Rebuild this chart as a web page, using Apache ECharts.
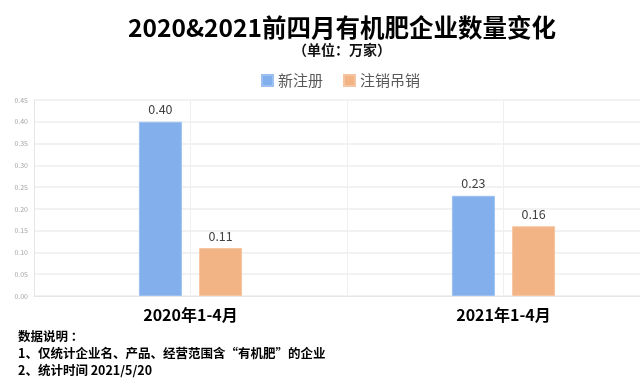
<!DOCTYPE html>
<html><head><meta charset="utf-8">
<script src="https://cdn.jsdelivr.net/npm/echarts@6/dist/echarts.min.js"></script>
<style>html,body{margin:0;padding:0;background:#fff}#c{width:640px;height:385px}</style>
</head><body><div id="c"></div>
<script>
var categories = ['2020年1-4月', '2021年1-4月'];
var newReg = [0.40, 0.23];
var cancelled = [0.11, 0.16];
var seriesNames = ['新注册', '注销吊销'];
var yTicks = [0, 0.05, 0.10, 0.15, 0.20, 0.25, 0.30, 0.35, 0.40, 0.45];
var notes = ['数据说明 ：', '1、仅统计企业名、产品、经营范围含“有机肥”的企业', '2、统计时间 2021/5/20'];

var F = '"Noto Sans CJK SC", "Noto Sans", sans-serif';
var chart = echarts.init(document.getElementById('c'));
chart.setOption({
  animation: false,
  backgroundColor: '#fff',
  title: {
    text: '2020&2021前四月有机肥企业数量变化',
    subtext: '（单位：万家）',
    left: 337, top: 10, textAlign: 'center', itemGap: 3,
    textStyle: {fontFamily: F, fontSize: 24.5, fontWeight: 'bold', color: '#000'},
    subtextStyle: {fontFamily: F, fontSize: 14, fontWeight: 'bold', color: '#111'}
  },
  legend: {
    data: seriesNames, top: 68, left: 256, itemWidth: 11, itemHeight: 11, itemGap: 20,
    icon: 'rect',
    textStyle: {fontFamily: F, fontSize: 15, color: '#595959'}
  },
  grid: {left: 34, width: 626, top: 100, bottom: 89, containLabel: false, outerBoundsMode: 'none'},
  xAxis: [{
    type: 'category', data: categories,
    axisLine: {lineStyle: {color: '#e6e6e6'}}, axisTick: {show: false},
    axisLabel: {fontFamily: F, fontSize: 16, fontWeight: 'bold', color: '#000', margin: 11},
    splitLine: {show: false}
  }, {
    type: 'category', data: ['a','b','c','d'], position: 'bottom',
    axisLine: {show: false}, axisTick: {show: false}, axisLabel: {show: false},
    splitLine: {show: true, lineStyle: {color: '#efefef', width: 1}}
  }],
  yAxis: {
    type: 'value', min: 0, max: 0.45, interval: 0.05,
    axisLine: {show: true, lineStyle: {color: '#e6e6e6'}}, axisTick: {show: false},
    axisLabel: {fontFamily: F, fontSize: 7, color: '#a6a6a6', margin: 6,
      formatter: function (v) { return v.toFixed(2); }},
    splitLine: {lineStyle: {color: '#eeeeee', width: 1.5}}
  },
  series: [{
    name: seriesNames[0], type: 'bar', data: newReg, barWidth: 43, barGap: '40%',
    itemStyle: {color: '#83B0EC', borderColor: '#9cc0f0', borderWidth: 1},
    label: {show: true, position: 'top', distance: 6, fontFamily: F, fontSize: 12.5, color: '#404040',
      formatter: function (p) { return p.value.toFixed(2); }}
  }, {
    name: seriesNames[1], type: 'bar', data: cancelled, barWidth: 43,
    itemStyle: {color: '#F2B385', borderColor: '#f5c4a0', borderWidth: 1},
    label: {show: true, position: 'top', distance: 6, fontFamily: F, fontSize: 12.5, color: '#404040',
      formatter: function (p) { return p.value.toFixed(2); }}
  }],
  graphic: notes.map(function (t, i) {
    return {type: 'text', left: 18, top: 330 + i * 17,
      style: {text: t, fontFamily: F, fontSize: 12.5, fontWeight: 'bold', fill: '#000'}};
  })
});
</script></body></html>
